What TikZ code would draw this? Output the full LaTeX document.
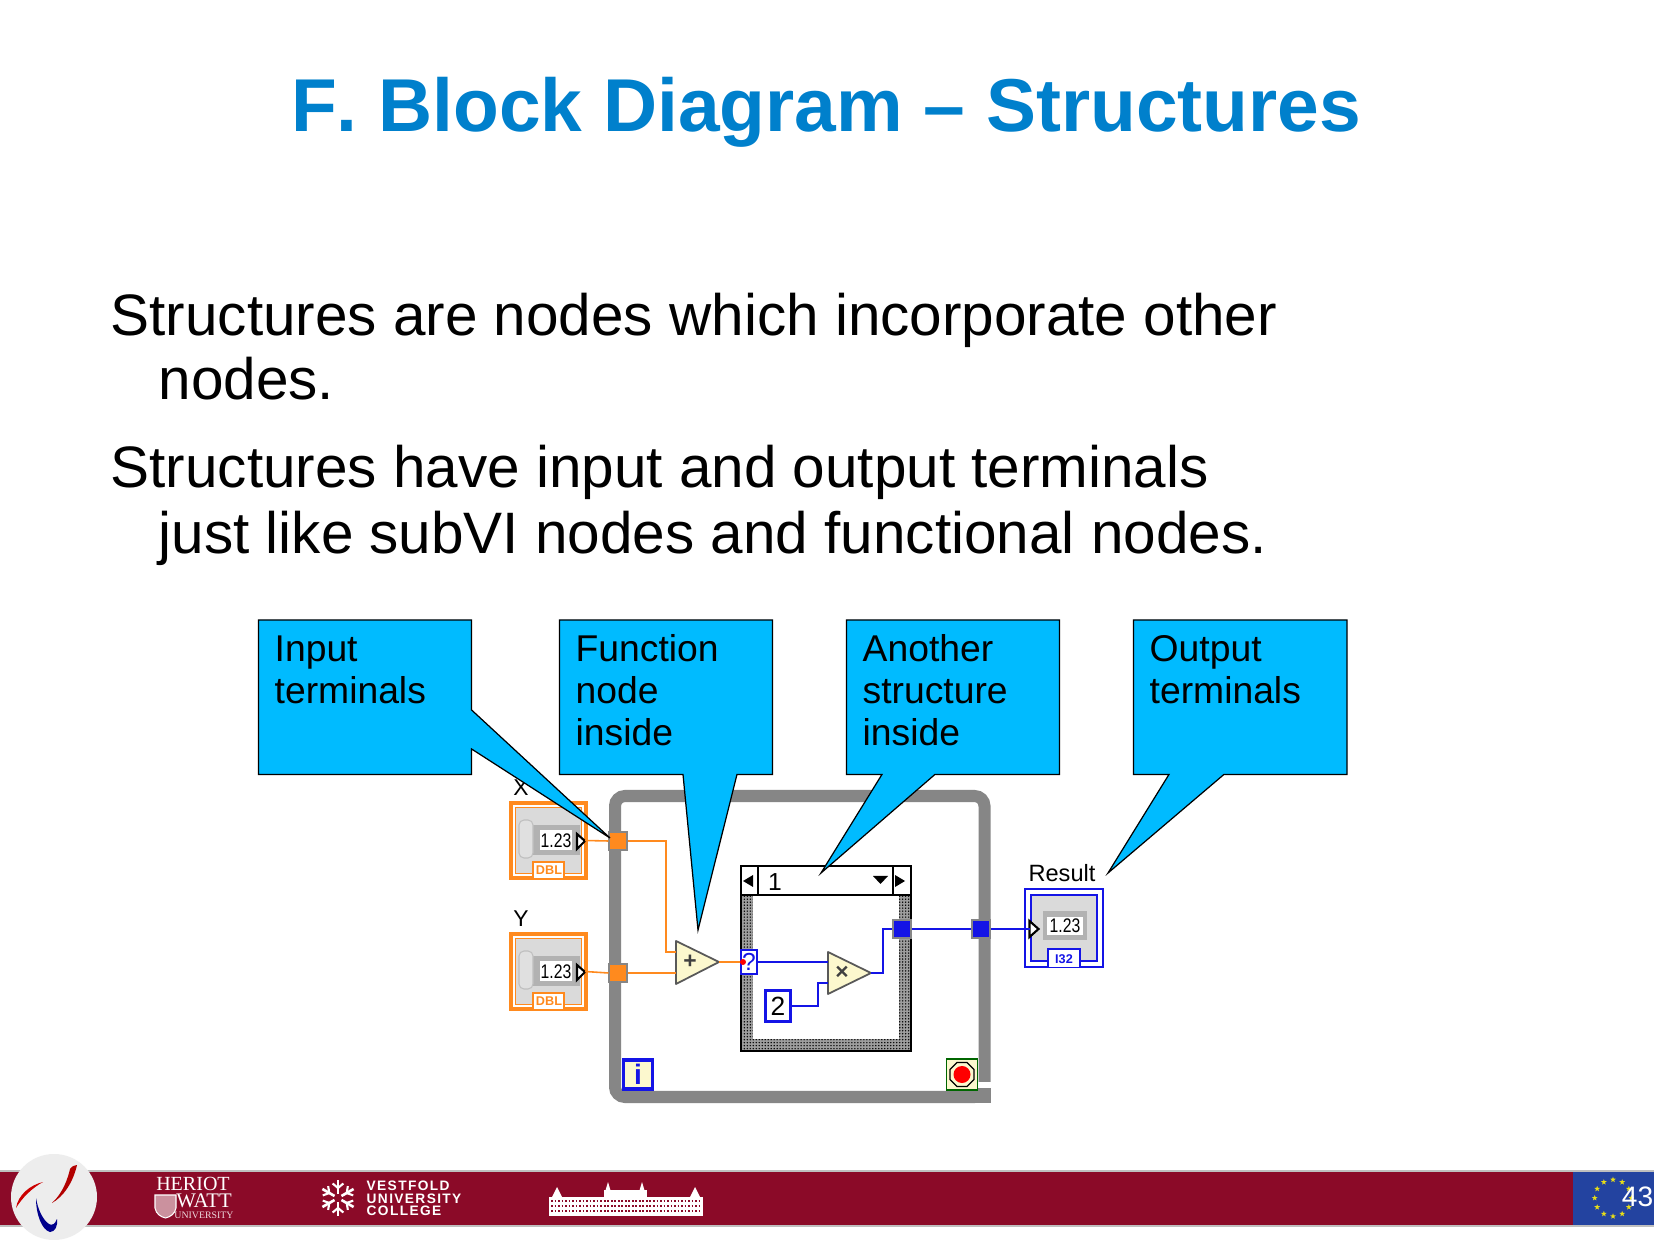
\documentclass[tikz,border=0pt]{standalone}
\usepackage{fontspec}
\setmainfont[Kerning=Off]{Liberation Sans}
\newfontfamily\heriotfont{Liberation Serif}
\newfontfamily\vestfont[LetterSpace=10]{Liberation Sans}
\usepackage{xcolor}
\usepackage{tikz}
\usetikzlibrary{shapes.geometric,positioning,calc,patterns.meta}

\definecolor{titleblue}{HTML}{0080CC}
\definecolor{noteblue}{HTML}{00BBFF}
\definecolor{wireorange}{HTML}{FF8A1E}
\definecolor{wireblue}{HTML}{1414E6}
\definecolor{framegray}{HTML}{868686}
\definecolor{panelgray}{HTML}{DADADA}
\definecolor{cream}{HTML}{FCF8CE}
\definecolor{bandred}{HTML}{8B0A28}
\definecolor{eublue}{HTML}{2343A0}

\tikzset{
    calloutbox/.style={draw=black, line width=0.35pt, fill=noteblue},
    notetext/.style={anchor=north west, inner sep=0pt, align=left, font=\fontsize{10.6}{11.85}\selectfont},
    bodytext/.style={anchor=base west, inner sep=0pt, font=\fontsize{16.62}{18}\selectfont},
    terminal/.style={draw=framegray, line width=0.3pt, inner sep=0pt, minimum size=0.18cm},
    orangewire/.style={draw=wireorange, line width=0.45pt},
    bluewire/.style={draw=wireblue, line width=0.45pt},
    funcnode/.style={draw=black!65, line width=0.5pt, fill=cream, line join=round},
    wirelabel/.style={inner sep=0pt, font=\fontsize{6.5}{7}\selectfont},
    digits/.style={inner sep=0pt, font=\fontsize{5.6}{6}\selectfont},
    tabtext/.style={inner sep=0pt, font=\fontsize{3.6}{4}\selectfont\bfseries}
}

\begin{document}
\begin{tikzpicture}[x=0.01cm, y=-0.01cm]
\useasboundingbox[fill=white] (0,0) rectangle (1654,1240);

% Title and body
\node[inner sep=0pt, anchor=base, text=titleblue, font=\fontsize{21.3}{24}\selectfont\bfseries] (title) at (826,132) {F. Block Diagram -- Structures};
\node[bodytext] (line1) at (110,336) {Structures are nodes which incorporate other};
\node[bodytext] (line2) at (158,400) {nodes.};
\node[bodytext] (line3) at (110,488) {Structures have input and output terminals};
\node[bodytext] (line4) at (158,554) {just like subVI nodes and functional nodes.};

% While loop frame
\draw[framegray, line width=0.12cm, rounded corners=0.1cm] (615,796) rectangle (984.5,1097);
\fill[framegray] (970,1085) rectangle (990.5,1103);
\fill[white] (978,1082) rectangle (992,1088);

% Input controls
\foreach \name/\top/\lab in {xctl/801/X, yctl/932/Y} {
    \begin{scope}[shift={(509,\top)}]
        \draw[wireorange, line width=0.04cm, fill=white] (2,2) rectangle (77,77);
        \draw[wireorange, line width=0.4pt, fill=panelgray] (6.5,6.5) rectangle (72.5,72.5);
        \fill[black!30] (22,24) rectangle (71,54);
        \draw[black!25, fill=black!12, line width=0.3pt, rounded corners=0.05cm] (10,19) rectangle (24,57);
        \fill[white] (31,29) rectangle (63,49);
        \node[digits] at (47,39.5) {\scalebox{0.8}[1]{1.23}};
        \draw[black, line width=0.6pt, fill=white] (68,33) -- (76,40) -- (68,48) -- cycle;
        \draw[wireorange, line width=0.4pt, fill=white] (24,77) -- (24,61) -- (55,61) -- (55,77);
        \node[tabtext, text=wireorange] at (40,69.5) {DBL};
        \node[wirelabel] at (12,-13) {\lab};
        \coordinate (\name) at (76,39.5);
    \end{scope}
}

% Output indicator
\begin{scope}[shift={(1025,889)}]
    \draw[wireblue, line width=0.4pt, fill=white] (0,0) rectangle (78,78);
    \draw[wireblue, line width=0.4pt, fill=panelgray] (6,6) rectangle (72,72);
    \fill[black!30] (18,22) rectangle (62,51);
    \fill[white] (22,28) rectangle (58,46);
    \node[digits] at (40,37) {\scalebox{0.8}[1]{1.23}};
    \draw[wireblue, line width=0.4pt, fill=white] (23,78) -- (23,60) -- (55,60) -- (55,78);
    \node[tabtext, text=wireblue] at (39,70) {I32};
    \draw[black, line width=0.6pt, fill=white] (4.5,32) -- (13.5,40) -- (4.5,48) -- cycle;
    \coordinate (resultin) at (4.5,40);
    \node[wirelabel, font=\fontsize{6.7}{7}\selectfont] (resultlab) at (37,-16) {Result};
\end{scope}

% Case structure
\fill[black!38] (741,895) rectangle (911,1051);
\fill[pattern={Dots[distance=0.85pt,radius=0.22pt]}, pattern color=black] (741,895) rectangle (911,1051);
\fill[white] (753,895) rectangle (899,1039);
\draw[black, line width=0.45pt] (741,866) rectangle (911,1051);
\draw[black, line width=0.45pt, fill=white] (741,866) rectangle (911,895);
\draw[black, line width=0.45pt] (758,866) -- (758,895);
\draw[black, line width=0.45pt] (893,866) -- (893,895);
\fill[black] (743,881) -- (753,875) -- (753,887) -- cycle;
\fill[black] (905,881) -- (895,875) -- (895,887) -- cycle;
\fill[black] (873,876) -- (888,876) -- (880.5,884) -- cycle;
\node[inner sep=0pt, font=\fontsize{7}{8}\selectfont] (casenum) at (775,882) {1};

% Tunnels and terminals
\node[terminal, fill=wireorange] (xterm) at (618,841) {};
\node[terminal, fill=wireorange] (yterm) at (618,973) {};
\node[terminal, fill=wireblue] (tunnelin) at (902,929) {};
\node[terminal, fill=wireblue] (tunnelout) at (981,929) {};
\node[draw=wireblue, fill=white, line width=0.35pt, inner sep=0pt, minimum width=0.16cm, minimum height=0.24cm, text=wireblue, font=\fontsize{7}{8}\selectfont] (selector) at (749,962) {?};
\fill[red] (743,962) circle (3);

% Constant, iteration and stop
\node[draw=wireblue, fill=white, line width=0.035cm, inner sep=0pt, minimum width=0.25cm, minimum height=0.31cm, font=\fontsize{7.5}{8}\selectfont] (two) at (778,1006) {2};
\node[draw=wireblue, fill=cream, line width=0.035cm, inner sep=0pt, minimum size=0.29cm, text=wireblue, font=\fontsize{8}{9}\selectfont\bfseries] (iter) at (638,1074.5) {i};
\node[draw=black!60!green, fill=cream, line width=0.45pt, inner sep=0pt, minimum size=0.31cm] (stop) at (962,1074.5) {};
\node[regular polygon, regular polygon sides=8, draw=black, fill=cream, line width=0.35pt, inner sep=0pt, minimum size=0.26cm] (stopring) at (962,1074.5) {};
\node[circle, fill=red, inner sep=0pt, minimum size=0.17cm] (stopdot) at (962,1074.5) {};

% Add and multiply functions
\draw[funcnode] (676,941) -- (719,962) -- (676,984) -- cycle;
\node[inner sep=0pt, font=\fontsize{6.5}{7}\selectfont\bfseries, text=black!75] (addsign) at (690,962) {+};
\coordinate (addina) at (676,952);
\coordinate (addinb) at (676,973);
\coordinate (addout) at (719,962);
\draw[funcnode] (828,952) -- (871,973) -- (828,994) -- cycle;
\node[inner sep=0pt, font=\fontsize{6.5}{7}\selectfont\bfseries, text=black!75] (mulsign) at (842,973) {×};
\coordinate (mulina) at (828,962);
\coordinate (mulinb) at (828,983);
\coordinate (mulout) at (871,973);

% Wires
\coordinate (bendx) at (666,900);
\coordinate (bendtwo) at (818,995);
\coordinate (bendout) at (883,950);
\draw[orangewire] (xctl) -- (xterm.west);
\draw[orangewire] (yctl) -- (yterm.west);
\draw[orangewire] (xterm.east) -| (bendx) |- (addina);
\draw[orangewire] (yterm.east) -- (addinb);
\draw[orangewire] (addout) -- (selector.west);
\draw[bluewire] (selector.east) -- (mulina);
\draw[bluewire] (two.east) -| (bendtwo) |- (mulinb);
\draw[bluewire] (mulout) -| (bendout) |- (tunnelin.west);
\draw[bluewire] (tunnelin.east) -- (tunnelout.west);
\draw[bluewire] (tunnelout.east) -- (resultin);

% Callouts
\draw[calloutbox] (258.5,620) -- (471.6,620) -- (471.6,710) -- (610,838) -- (471.6,749) -- (471.6,774.4) -- (258.5,774.4) -- cycle;
\draw[calloutbox] (559.5,620) -- (772.5,620) -- (772.5,774.4) -- (737,774.4) -- (698,930) -- (683,774.4) -- (559.5,774.4) -- cycle;
\draw[calloutbox] (846.5,620) -- (1059.5,620) -- (1059.5,774.4) -- (935,774.4) -- (821,873) -- (882,774.4) -- (846.5,774.4) -- cycle;
\draw[calloutbox] (1133.5,620) -- (1347,620) -- (1347,774.4) -- (1224,774.4) -- (1108,873) -- (1169,774.4) -- (1133.5,774.4) -- cycle;
\node[notetext] (inputnote) at (274,635) {Input\\terminals};
\node[notetext] (funcnote) at (575,634) {Function\\node\\inside};
\node[notetext] (casenote) at (862,634) {Another\\structure\\inside};
\node[notetext] (outputnote) at (1149,635) {Output\\terminals};

% Footer band
\fill[bandred] (0,1171) rectangle (1654,1226);
\fill[eublue] (1573,1171) rectangle (1654,1226);
\draw[black!25, line width=0.3pt] (0,1171) -- (1654,1171);
\draw[black!25, line width=0.3pt] (0,1226) -- (1654,1226);
\foreach \a in {0,30,...,330} {
    \node[star, star points=5, star point ratio=2.4, fill=yellow!90!black, inner sep=0pt, minimum size=0.06cm] at ($(1613,1198)+(\a:18.3)$) {};
}
\node[inner sep=0pt, text=white, font=\fontsize{8}{9}\selectfont] (pagenum) at (1637.5,1197) {43};

% Round logo
\fill[black!7] (54,1197) circle (43);
\fill[red!70!black] (77,1165) .. controls (73,1183) and (63,1197) .. (52,1203) .. controls (63,1193) and (68,1178) .. (70,1169) .. controls (72,1166) and (75,1165) .. (77,1165) -- cycle;
\fill[red!80!black] (43,1182) .. controls (30,1185) and (18,1195) .. (16,1208) .. controls (22,1198) and (32,1188) .. (43,1182) -- cycle;
\fill[blue!55!black] (36,1198) .. controls (36,1215) and (42,1230) .. (50,1232) .. controls (55,1232) and (58,1226) .. (57,1219) .. controls (55,1224) and (52,1226) .. (49,1224) .. controls (43,1220) and (38,1210) .. (36,1198) -- cycle;

% Heriot Watt
\node[inner sep=0pt, text=white, font=\heriotfont\fontsize{5.7}{6}\selectfont] (heriot) at (193,1184) {HERIOT};
\node[inner sep=0pt, text=white, font=\heriotfont\fontsize{5.9}{7}\selectfont] (watt) at (204,1201) {WATT};
\node[inner sep=0pt, text=white!85!bandred, font=\heriotfont\fontsize{2.8}{3}\selectfont] (heriotuni) at (204,1215) {UNIVERSITY};
\draw[white, fill=white!55!bandred, line width=0.3pt] (155,1195) -- (176,1195) -- (176,1208) .. controls (175,1214) and (170,1217) .. (165.5,1218) .. controls (161,1217) and (156,1214) .. (155,1208) -- cycle;

% Vestfold
\foreach \a in {30,90,...,330} {
    \draw[white, line width=0.75pt] ($(338,1198)+(\a:4)$) -- ($(338,1198)+(\a:18)$);
    \draw[white, line width=0.6pt] ($(338,1198)+(\a:10)$) -- ($(338,1198)+(\a:10)+(\a+50:7)$);
    \draw[white, line width=0.6pt] ($(338,1198)+(\a:10)$) -- ($(338,1198)+(\a:10)+(\a-50:7)$);
}
\node[inner sep=0pt, anchor=west, text=white, font=\vestfont\bfseries\fontsize{3.9}{4}\selectfont] (vest1) at (366,1186) {VESTFOLD};
\node[inner sep=0pt, anchor=west, text=white, font=\vestfont\bfseries\fontsize{3.9}{4}\selectfont] (vest2) at (366,1198.5) {UNIVERSITY};
\node[inner sep=0pt, anchor=west, text=white, font=\vestfont\bfseries\fontsize{3.9}{4}\selectfont] (vest3) at (366,1211) {COLLEGE};

% Building
\fill[white] (549,1197) rectangle (703,1216);
\fill[white] (604,1190) rectangle (647,1216);
\fill[white] (552,1197) -- (557,1187) -- (562,1197) -- cycle;
\fill[white] (690,1197) -- (695,1187) -- (700,1197) -- cycle;
\fill[white] (605,1192) -- (608,1182) -- (611,1192) -- cycle;
\fill[white] (639,1192) -- (642,1182) -- (645,1192) -- cycle;
\foreach \y in {1201,1206,1211} {
    \draw[bandred, line width=0.35pt, dash pattern=on 0.5pt off 0.5pt] (551,\y) -- (701,\y);
}
\end{tikzpicture}
\end{document}
